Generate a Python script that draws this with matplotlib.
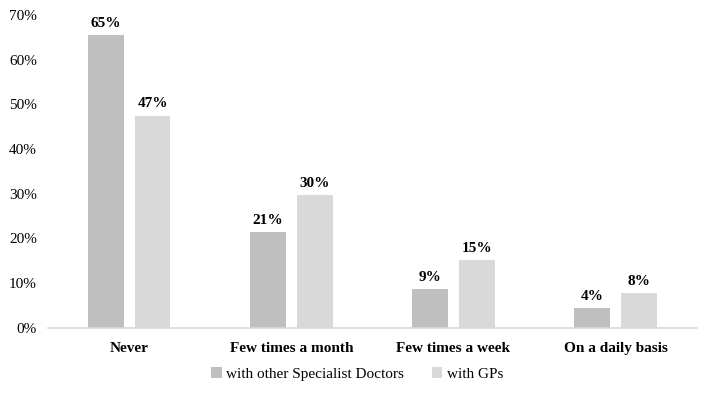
import matplotlib.pyplot as plt
import numpy as np

plt.rcParams['font.family'] = ['Liberation Serif', 'DejaVu Serif']

# how often respondents communicate
categories = ["Never", "Few times a month", "Few times a week", "On a daily basis"]
specialists = [65.4, 21.4, 8.6, 4.4]
gps = [47.4, 29.6, 15.1, 7.7]
series_names = ["with other Specialist Doctors", "with GPs"]

x = np.arange(len(categories))
width = 0.22
gap = 0.068

fig = plt.figure(figsize=(7.08, 3.93), dpi=100)
ax = fig.add_axes([0.068, 0.166, 0.916, 0.796])

b1 = ax.bar(x - (width + gap) / 2, specialists, width, color='#BFBFBF', label=series_names[0])
b2 = ax.bar(x + (width + gap) / 2, gps, width, color='#D9D9D9', label=series_names[1])

for bars in (b1, b2):
    ax.bar_label(bars, labels=[f"{round(v)}%" for v in bars.datavalues],
                 padding=4, fontsize=11, fontweight='bold')

ax.set_xlim(-0.5, len(categories) - 0.5)
ax.set_ylim(0, 70)
ax.set_yticks(np.arange(0, 71, 10))
ax.set_yticklabels([f"{t}%" for t in range(0, 71, 10)], fontsize=11)
ax.set_xticks(x)
ax.set_xticklabels(categories, fontsize=11, fontweight='bold')
ax.tick_params(axis='both', length=0, pad=8)
ax.tick_params(axis='x', pad=10)

for side in ('top', 'right', 'left'):
    ax.spines[side].set_visible(False)
ax.spines['bottom'].set_color('#D9D9D9')
ax.spines['bottom'].set_linewidth(1.2)

fig.legend(loc='center', bbox_to_anchor=(357 / 708, 1 - 374 / 393), ncol=2,
           frameon=False, fontsize=11, handlelength=0.7, handleheight=0.7,
           handletextpad=0.3, columnspacing=1.8)

fig.savefig('out.png', dpi=100)
